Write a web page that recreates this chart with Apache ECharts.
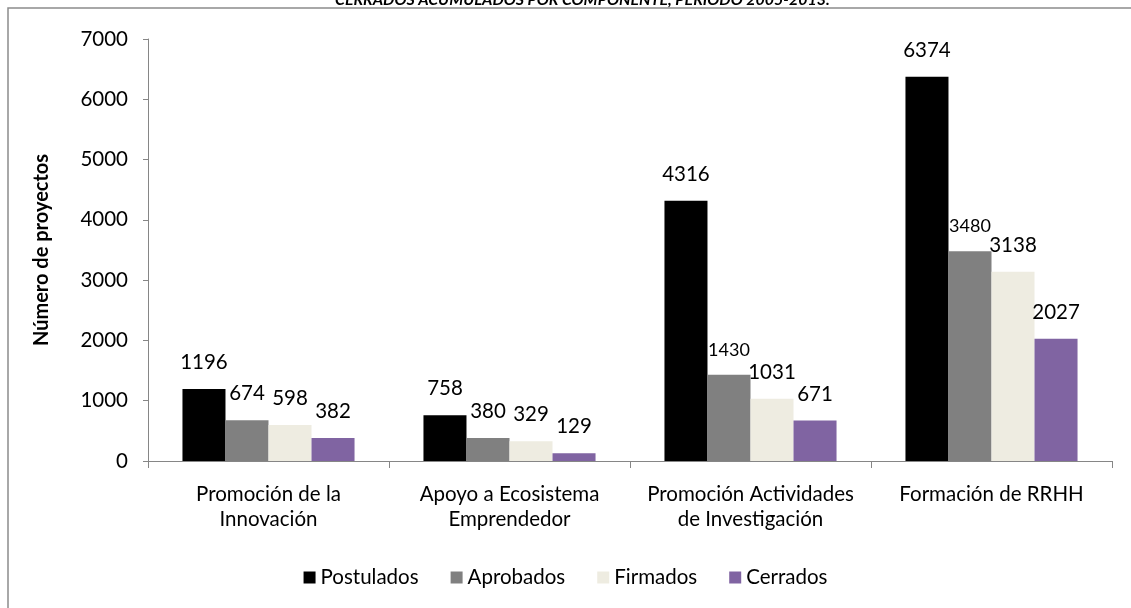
<!DOCTYPE html>
<html>
<head>
<meta charset="utf-8">
<script src="https://cdn.jsdelivr.net/npm/echarts@6/dist/echarts.min.js"></script>
<style>html,body{margin:0;padding:0;background:#fff}#c{width:1131px;height:608px}</style>
</head>
<body>
<div id="c"></div>
<script>
const categories = ['Promoción de la\nInnovación', 'Apoyo a Ecosistema\nEmprendedor', 'Promoción Actividades\nde Investigación', 'Formación de RRHH'];
const seriesNames = ['Postulados', 'Aprobados', 'Firmados', 'Cerrados'];
const postulados = [1196, 758, 4316, 6374];
const aprobados = [674, 380, 1430, 3480];
const firmados = [598, 329, 1031, 3138];
const cerrados = [382, 129, 671, 2027];
const yTicks = [0, 1000, 2000, 3000, 4000, 5000, 6000, 7000];
const titleText = 'CERRADOS ACUMULADOS POR COMPONENTE, PERIODO 2005-2013.';

const colors = ['#000000', '#808080', '#EEECE1', '#8064A2'];
const font = 'Lato, "Open Sans", sans-serif';
const values = [postulados, aprobados, firmados, cerrados];

const chart = echarts.init(document.getElementById('c'), null, {renderer: 'canvas'});
chart.setOption({
  animation: false,
  title: {
    text: titleText, left: 330, top: -13,
    textStyle: {fontFamily: font, fontSize: 16, fontWeight: 'bold', fontStyle: 'italic', color: '#000'}
  },
  graphic: [{
    type: 'rect', shape: {x: 8, y: 8, width: 1140, height: 620},
    style: {fill: 'none', stroke: '#8c8c8c', lineWidth: 1.5}, z: -1
  }],
  legend: {
    data: seriesNames, bottom: 15, left: 'center', itemWidth: 12, itemHeight: 12, itemGap: 32,
    icon: 'rect',
    textStyle: {fontFamily: font, fontSize: 20.5, color: '#000'}
  },
  grid: {left: 148, right: 19, top: 39, bottom: 147},
  xAxis: {
    type: 'category', data: categories,
    axisLine: {lineStyle: {color: '#868686', width: 1}},
    axisTick: {show: true, length: 7, interval: 0, lineStyle: {color: '#868686'}},
    axisLabel: {interval: 0, fontFamily: font, fontSize: 20.5, color: '#000', margin: 21, lineHeight: 25}
  },
  yAxis: {
    type: 'value', min: yTicks[0], max: yTicks[yTicks.length - 1], interval: 1000,
    name: 'Número de proyectos', nameLocation: 'middle', nameGap: 96, nameRotate: 90,
    nameTextStyle: {fontFamily: font, fontSize: 20, fontWeight: 'bold', color: '#000'},
    axisLine: {show: true, lineStyle: {color: '#868686'}},
    axisTick: {show: true, length: 5, lineStyle: {color: '#868686'}},
    splitLine: {show: false},
    axisLabel: {fontFamily: font, fontSize: 20.5, color: '#000', margin: 20, formatter: v => String(v)}
  },
  series: seriesNames.map((n, i) => ({
    name: n, type: 'bar', data: values[i], barGap: '0%', barCategoryGap: '28.6%',
    itemStyle: {color: colors[i]},
    label: {
      show: true, position: 'top', distance: 16, fontFamily: font, fontSize: 20.5, color: '#000',
      formatter: p => (i === 1 && p.value >= 1000) ? '{s|' + p.value + '}' : String(p.value),
      rich: {s: {fontFamily: font, fontSize: 18, color: '#000'}}
    }
  }))
});
</script>
</body>
</html>
